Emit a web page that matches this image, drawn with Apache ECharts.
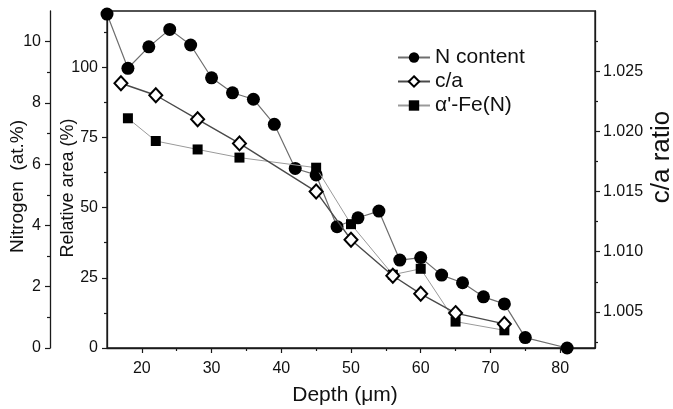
<!DOCTYPE html>
<html>
<head>
<meta charset="utf-8">
<script src="https://cdn.jsdelivr.net/npm/echarts@6/dist/echarts.min.js"></script>
<style>
  html, body { margin: 0; padding: 0; background: #fff; }
  #main { width: 673px; height: 409px; }
</style>
</head>
<body>
<div id="main"></div>
<script>
// N content (at.%) vs depth
var depthN = [15, 18, 21, 24, 27, 30, 33, 36, 39, 42, 45, 48, 51, 54, 57, 60, 63, 66, 69, 72, 75, 81];
var nContent = [10.9, 9.13, 9.83, 10.4, 9.89, 8.82, 8.33, 8.12, 7.30, 5.86, 5.65, 3.96, 4.25, 4.47, 2.87, 2.95, 2.38, 2.13, 1.67, 1.44, 0.34, 0];
// c/a ratio vs depth
var depthCA = [17, 22, 28, 34, 45, 50, 56, 60, 65, 72];
var caRatio = [1.024, 1.023, 1.021, 1.019, 1.015, 1.011, 1.008, 1.0065, 1.0049, 1.004];
// relative area of alpha'-Fe(N)
var depthFe = [18, 22, 28, 34, 45, 50, 56, 60, 65, 72];
var feArea = [81.8, 73.7, 70.7, 67.8, 64.2, 44.1, 26.1, 28.2, 9.4, 6.3];

// tick labels
var xTicks = [20, 30, 40, 50, 60, 70, 80];
var xMinor = [25, 35, 45, 55, 65, 75];
var areaTicks = [0, 25, 50, 75, 100];
var areaMinor = [12.5, 37.5, 62.5, 87.5, 112.5];
var nTicks = [0, 2, 4, 6, 8, 10];
var nMinor = [1, 3, 5, 7, 9];
var caTicks = [1.005, 1.010, 1.015, 1.020, 1.025];
var caMinor = [1.0025, 1.0075, 1.0125, 1.0175, 1.0225, 1.0275];

var names = ['N content', 'c/a', "\u03b1'-Fe(N)"];

function pairs(xs, ys) {
    return xs.map(function (x, i) { return [x, ys[i]]; });
}

var font = 'Liberation Sans, Arial, sans-serif';
var lineCol = '#1a1a1a';
var labelStyle = { color: '#111', fontSize: 16, fontFamily: font };

function title(size, pad) {
    return { color: '#111', fontSize: size, fontFamily: font, padding: pad };
}

// extra axis that only draws the short minor ticks
function minorAxis(base, vals) {
    return Object.assign({}, base, {
        name: '',
        axisLine: { show: false },
        axisLabel: { show: false },
        splitLine: { show: false },
        axisTick: { show: true, customValues: vals, length: 3, lineStyle: { color: lineCol, width: 1.2 } }
    });
}

var xBase = { type: 'value', min: 15, max: 85, position: 'bottom' };
var areaBase = { type: 'value', min: 0, max: 120, position: 'left', offset: 0 };
var nBase = { type: 'value', min: 0, max: 11, position: 'left', offset: 57 };
var caBase = { type: 'value', min: 1.002, max: 1.030, position: 'right', offset: 0 };

var myChart = echarts.init(document.getElementById('main'));
var option = {
    animation: false,
    grid: {
        left: 107, right: 78, top: 11, bottom: 61,
        outerBoundsMode: 'none',
        show: true, borderColor: lineCol, borderWidth: 1.3
    },
    legend: {
        data: names,
        orient: 'vertical',
        left: 392, top: 42,
        itemWidth: 32, itemHeight: 13, itemGap: 3,
        textStyle: { color: '#111', fontSize: 21, fontFamily: font }
    },
    xAxis: [
        Object.assign({}, xBase, {
            name: 'Depth (\u03bcm)',
            nameLocation: 'middle', nameGap: 37, nameMoveOverlap: false,
            nameTextStyle: title(21, [0, 12, 0, 0]),
            axisLine: { show: true, lineStyle: { color: lineCol, width: 1.3 } },
            axisTick: { show: true, customValues: xTicks, length: 5, lineStyle: { color: lineCol, width: 1.2 } },
            axisLabel: Object.assign({ customValues: xTicks, margin: 13 }, labelStyle),
            splitLine: { show: false }
        }),
        minorAxis(xBase, xMinor)
    ],
    yAxis: [
        Object.assign({}, areaBase, {
            name: 'Relative area (%)',
            nameLocation: 'middle', nameGap: 30, nameMoveOverlap: false,
            nameTextStyle: title(18, [0, 17, 0, 0]),
            axisLine: { show: true, lineStyle: { color: lineCol, width: 1.3 } },
            axisTick: { show: true, customValues: areaTicks, length: 5, lineStyle: { color: lineCol, width: 1.2 } },
            axisLabel: Object.assign({ customValues: areaTicks, margin: 9 }, labelStyle),
            splitLine: { show: false }
        }),
        Object.assign({}, nBase, {
            name: 'Nitrogen  (at.%)',
            nameLocation: 'middle', nameGap: 23, nameMoveOverlap: false,
            nameTextStyle: title(19, [0, 14, 0, 0]),
            axisLine: { show: true, lineStyle: { color: lineCol, width: 1.3 } },
            axisTick: { show: true, customValues: nTicks, length: 5, lineStyle: { color: lineCol, width: 1.2 } },
            axisLabel: Object.assign({ customValues: nTicks, margin: 9 }, labelStyle),
            splitLine: { show: false }
        }),
        Object.assign({}, caBase, {
            name: 'c/a ratio',
            nameLocation: 'middle', nameGap: 54, nameRotate: 90, nameMoveOverlap: false,
            nameTextStyle: title(26, [0, 0, 0, 45]),
            axisLine: { show: true, lineStyle: { color: lineCol, width: 1.3 } },
            axisTick: { show: true, customValues: caTicks, length: 5, lineStyle: { color: lineCol, width: 1.2 } },
            axisLabel: Object.assign({
                customValues: caTicks, margin: 8,
                formatter: function (v) { return v.toFixed(3); }
            }, labelStyle),
            splitLine: { show: false }
        }),
        minorAxis(areaBase, areaMinor),
        minorAxis(nBase, nMinor),
        minorAxis(caBase, caMinor)
    ],
    series: [
        {
            name: names[0],
            type: 'line',
            yAxisIndex: 1,
            data: pairs(depthN, nContent),
            symbol: 'circle', symbolSize: 13,
            itemStyle: { color: '#000' },
            lineStyle: { color: '#6e6e6e', width: 1.2 },
            z: 2
        },
        {
            name: names[2],
            type: 'line',
            yAxisIndex: 0,
            data: pairs(depthFe, feArea),
            symbol: 'rect', symbolSize: 10,
            itemStyle: { color: '#000' },
            lineStyle: { color: '#9a9a9a', width: 1 },
            z: 3
        },
        {
            name: names[1],
            type: 'line',
            yAxisIndex: 2,
            data: pairs(depthCA, caRatio),
            symbol: 'diamond', symbolSize: [13, 14],
            itemStyle: { color: '#fff', borderColor: '#000', borderWidth: 2 },
            lineStyle: { color: '#4a4a4a', width: 1.4 },
            z: 4
        }
    ]
};
myChart.setOption(option);
</script>
</body>
</html>
